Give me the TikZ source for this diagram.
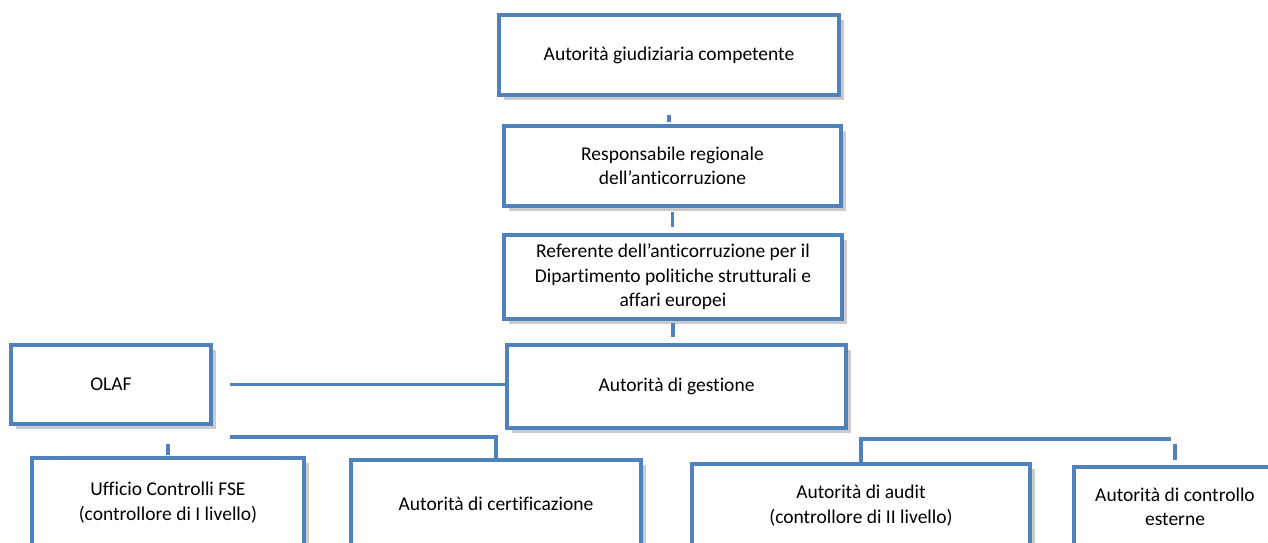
\documentclass[tikz,border=0pt]{standalone}
\usepackage{fontspec}
\setmainfont{Carlito}[Ligatures={NoCommon,TeX}]
\usetikzlibrary{shadows}
\definecolor{boxblue}{HTML}{4F81BD}
\begin{document}
\begin{tikzpicture}[x=1pt,y=-1pt,
	box/.style={draw=boxblue,line width=4pt,fill=white,outer sep=0pt,inner sep=2pt,align=center,font=\fontsize{19.5}{24.5}\selectfont,
		drop shadow={shadow xshift=5pt,shadow yshift=-5pt,fill=black!45,opacity=.45}},
	conn/.style={draw=boxblue,line width=3.5pt}]
	\clip (0,0) rectangle (1268,543);
	\fill[white] (0,0) rectangle (1268,543);
	\node[box,minimum width=340pt,minimum height=80pt] (giud) at (669,55) {Autorità giudiziaria competente};
	\node[box,minimum width=337pt,minimum height=80pt] (resp) at (672.5,166) {Responsabile regionale\\dell’anticorruzione};
	\node[box,minimum width=338pt,minimum height=84pt] (refe) at (673,277) {Referente dell’anticorruzione per il\\Dipartimento politiche strutturali e\\affari europei};
	\node[box,minimum width=339pt,minimum height=83pt] (gest) at (676.5,386.5) {Autorità di gestione};
	\node[box,minimum width=200pt,minimum height=79pt] (olaf) at (111,384.5) {OLAF};
	\node[box,minimum width=272pt,minimum height=89pt] (uffi) at (168,502.5) {Ufficio Controlli FSE\\(controllore di I livello)};
	\node[box,minimum width=290pt,minimum height=87pt] (cert) at (496,503.5) {Autorità di certificazione};
	\node[box,minimum width=338pt,minimum height=83pt] (audit) at (861,505.5) {Autorità di audit\\(controllore di II livello)};
	\node[box,minimum width=202pt,minimum height=80pt] (ctrl) at (1175,507) {Autorità di controllo\\esterne};
	\draw[conn,shorten <=20pt,shorten >=4pt] (giud.south) -- (giud.south |- resp.north);
	\draw[conn,shorten <=6pt,shorten >=8pt] (resp.south) -- (resp.south |- refe.north);
	\draw[conn,shorten <=4pt,shorten >=8pt] (refe.south) -- (refe.south |- gest.north);
	\draw[conn,shorten <=19pt] (olaf.east) -- (olaf.east -| gest.west);
	\draw[conn] ([xshift=19pt,yshift=-13pt]olaf.south east) -| ([yshift=2pt]cert.north);
	\draw[conn] ([yshift=3pt]uffi.north) -- ++(0,-11);
	\draw[conn] ([yshift=2pt]audit.north) |- ([xshift=-4pt,yshift=28pt]ctrl.north);
	\draw[conn] ([yshift=7pt]ctrl.north) -- ++(0,-16);
\end{tikzpicture}
\end{document}
